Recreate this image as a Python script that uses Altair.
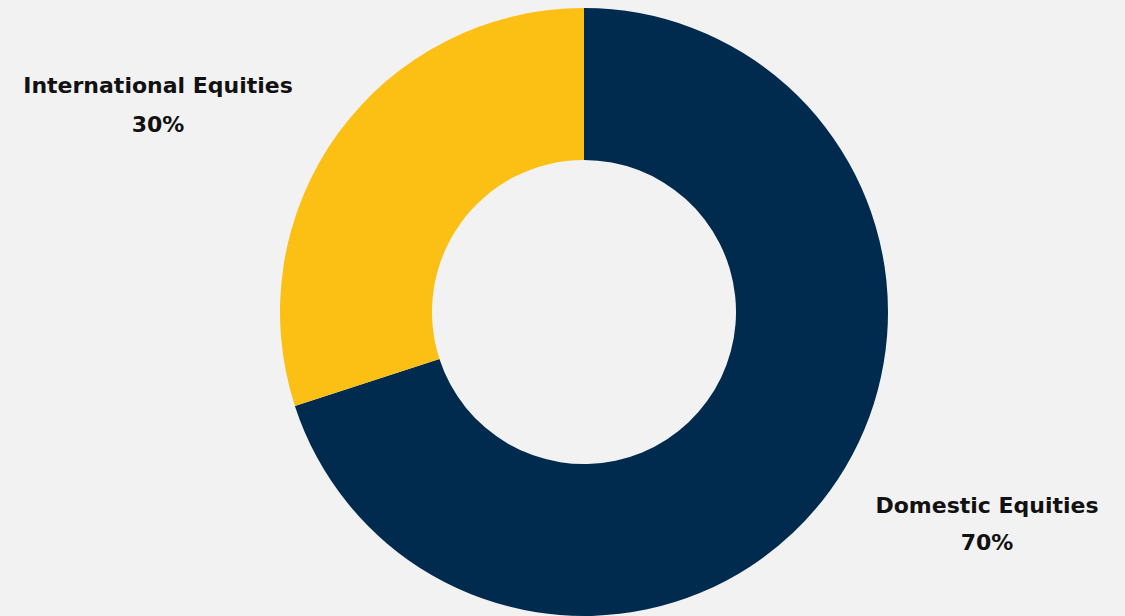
import altair as alt
import pandas as pd

categories = ["Domestic Equities", "International Equities"]
values = [70, 30]
colors = ["#012b4e", "#fcbf14"]

df = pd.DataFrame({"category": categories, "value": values, "order": [0, 1]})
df["pct"] = df["value"].astype(str) + "%"

base = alt.Chart(df)

arc = base.mark_arc(outerRadius=304, innerRadius=152, stroke=None).encode(
    theta=alt.Theta("value:Q", stack=True),
    order=alt.Order("order:Q"),
    color=alt.Color("category:N", scale=alt.Scale(domain=categories, range=colors), legend=None),
    x=alt.value(584),
    y=alt.value(312),
)

font = "DejaVu Sans"

def label(cat, xpos, ypos_name, ypos_pct):
    d = base.transform_filter(alt.datum.category == cat)
    name = d.mark_text(font=font, fontSize=22, fontWeight="bold", color="#111111", baseline="middle").encode(
        text="category:N", x=alt.value(xpos), y=alt.value(ypos_name)
    )
    pct = d.mark_text(font=font, fontSize=22, fontWeight="bold", color="#111111", baseline="middle").encode(
        text="pct:N", x=alt.value(xpos), y=alt.value(ypos_pct)
    )
    return name + pct

chart = alt.layer(
    arc,
    label("International Equities", 158, 86, 125),
    label("Domestic Equities", 987, 506, 543),
).properties(
    width=1125, height=616, background="#f2f2f2", padding=0,
    autosize=alt.AutoSizeParams(type="none"),
).configure_view(stroke=None)

chart.save("out.html", embed_options={"renderer": "svg", "actions": False})
